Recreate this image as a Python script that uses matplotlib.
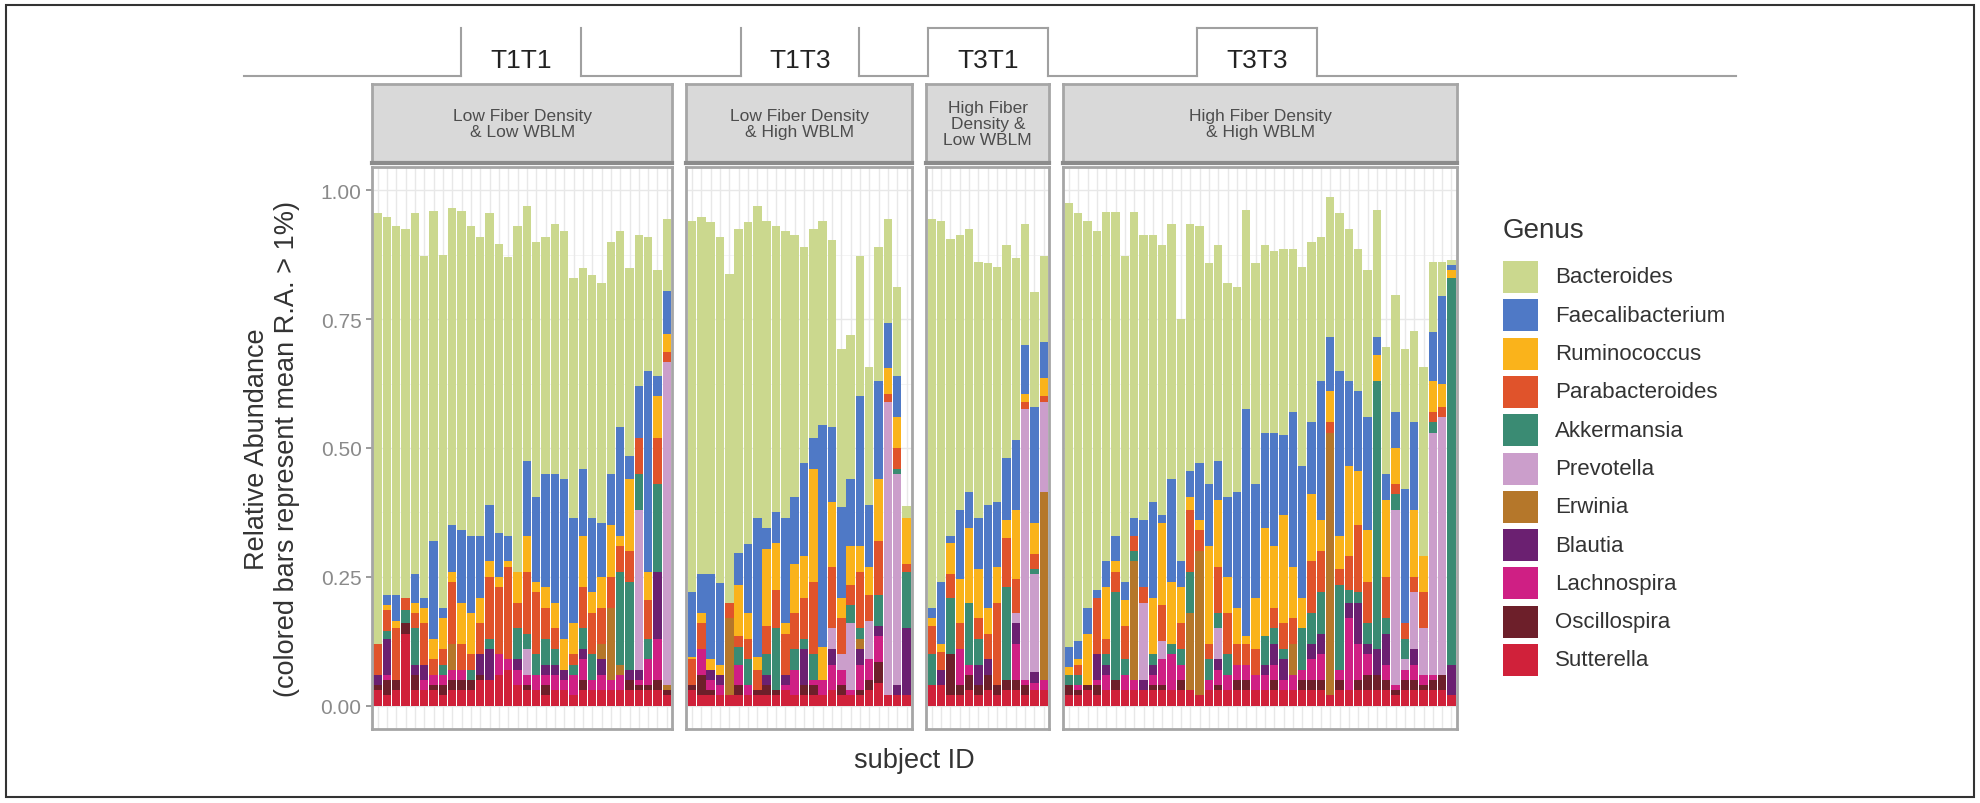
import numpy as np
import matplotlib.pyplot as plt
from matplotlib.patches import Rectangle
from matplotlib.lines import Line2D

plt.rcParams['font.family'] = ['Liberation Sans', 'DejaVu Sans']

W, H = 1980, 804

# ---- data -----------------------------------------------------------------
groups = ['T1T1', 'T1T3', 'T3T1', 'T3T3']
strip_labels = ['Low Fiber Density\n& Low WBLM',
                'Low Fiber Density\n& High WBLM',
                'High Fiber\nDensity &\nLow WBLM',
                'High Fiber Density\n& High WBLM']
n_subjects = [32, 24, 13, 42]

genera = ['Bacteroides', 'Faecalibacterium', 'Ruminococcus', 'Parabacteroides',
          'Akkermansia', 'Prevotella', 'Erwinia', 'Blautia', 'Lachnospira',
          'Oscillospira', 'Sutterella']
genus_colors = ['#cbd88e', '#4f79c6', '#fab31b', '#e0532b', '#3a8b73', '#cb9ecb',
                '#b5772a', '#6b2071', '#cf1f84', '#6d1f2a', '#d0213a']

# one value per subject, panels concatenated in order T1T1, T1T3, T3T1, T3T3
sutterella = [
    .03, .02, .03, .14, .03, .03, .03, .02, .03, .03, .03, .05, .05, .06, .07, .04,
    .03, .03, .02, .03, .03, .02, .03, .03, .03, .03, .03, .03, .03, .03, .03, .02,
    .03, .02, .02, .02, .02, .02, .02, .02, .02, .02, .03, .02, .02, .02, .02, .03,
    .02, .02, .02, .03, .045, .02, .02, .02,
    .04, .04, .02, .02, .03, .02, .03, .02, .03, .03, .02, .03, .03,
    .02, .02, .03, .02, .03, .03, .03, .03, .03, .03, .03, .03, .03, .03, .02, .03,
    .03, .03, .03, .03, .03, .03, .03, .03, .03, .03, .03, .03, .02, .03, .03, .03,
    .03, .03, .03, .02, .03, .03, .03, .03, .03, .02]
oscillospira = [
    .01, .03, .02, .02, .03, 0, .01, .02, .02, .02, .02, .01, 0, 0, 0, 0,
    .01, 0, .02, 0, 0, 0, .02, 0, 0, 0, 0, .02, .01, .01, .02, .01,
    .01, .04, .01, 0, 0, .02, 0, .01, .02, .01, 0, 0, .02, .02, 0, 0,
    .02, 0, .01, .02, .04, 0, 0, 0,
    0, 0, .08, .02, .03, .02, .03, .02, .02, .02, .02, 0, 0,
    .02, .01, .01, .02, 0, .02, 0, 0, 0, .01, .01, 0, .02, 0, 0, 0,
    .01, 0, .02, .02, 0, 0, .02, 0, 0, .02, .02, .02, 0, .02, 0, .02,
    .03, .03, .02, .01, .02, .02, .01, .02, .03, 0]
lachnospira = [
    0, .01, 0, 0, 0, .02, .02, .02, .02, .02, 0, 0, 0, .04, .02, .03,
    .02, .03, .02, .03, .02, .04, .04, .02, .03, .02, .03, 0, .01, .05, .08, 0,
    0, .05, .02, .02, 0, .04, .02, 0, 0, 0, .01, .05, 0, .01, .03, .05,
    .03, .01, .05, .04, .05, 0, 0, 0,
    0, 0, 0, .07, .02, 0, 0, 0, 0, .07, .01, .015, .02,
    0, .01, 0, .01, .03, 0, .03, .02, 0, .02, .05, .07, .03, 0, 0, .02,
    .03, .03, .03, .03, .03, .03, .03, .02, .03, .02, .04, .05, 0, .02, .14, .07,
    .04, 0, .03, .01, .02, .03, .02, .01, 0, 0]
blautia = [
    .02, .07, 0, 0, .02, .03, 0, 0, 0, 0, 0, .04, .06, 0, 0, .02,
    0, 0, .02, .02, .02, 0, .02, 0, .03, 0, 0, .02, .02, 0, .13, 0,
    0, 0, .02, .02, 0, 0, 0, 0, .02, 0, .02, 0, .07, 0, 0, .03,
    0, 0, .03, 0, .02, 0, .02, .13,
    0, .03, 0, 0, 0, .04, .03, 0, 0, .04, 0, .02, 0,
    0, 0, 0, .05, .02, 0, 0, 0, .02, .02, 0, 0, 0, 0, 0, 0,
    .02, 0, 0, 0, 0, .02, .04, .04, 0, 0, .03, .04, 0, 0, .03, .08,
    .02, .05, .06, 0, 0, .03, 0, 0, 0, .06]
erwinia = [
    0, 0, 0, 0, 0, 0, 0, 0, .05, 0, 0, 0, 0, 0, 0, 0,
    0, 0, 0, 0, 0, 0, 0, 0, .03, .14, .02, 0, 0, 0, 0, .01,
    0, 0, 0, 0, .15, 0, 0, 0, 0, 0, 0, 0, 0, 0, 0, 0,
    0, 0, .02, 0, 0, 0, 0, 0,
    0, 0, 0, 0, 0, 0, 0, 0, 0, 0, 0, 0, .365,
    0, 0, 0, 0, 0, 0, 0, .23, 0, 0, 0, 0, 0, .15, .28, 0,
    0, 0, 0, 0, 0, 0, 0, 0, .06, 0, 0, 0, .51, 0, 0, 0,
    0, 0, 0, 0, 0, 0, 0, 0, 0, 0]
prevotella = [
    0, 0, 0, 0, 0, 0, 0, 0, 0, 0, 0, 0, 0, 0, 0, 0,
    .05, 0, 0, 0, 0, 0, 0, 0, 0, 0, 0, 0, .31, 0, 0, .627,
    0, 0, 0, 0, 0, 0, 0, 0, 0, 0, 0, 0, 0, 0, 0, .04,
    .03, .13, 0, .075, 0, .57, .41, 0,
    0, 0, 0, 0, 0, 0, 0, 0, 0, .02, .525, .19, .175,
    0, 0, 0, 0, 0, 0, 0, 0, .15, 0, .035, 0, 0, 0, 0, 0,
    .06, 0, 0, 0, 0, 0, 0, 0, 0, 0, 0, 0, 0, 0, 0, 0,
    0, 0, 0, .34, .02, .11, .09, .47, .50, 0]
akkermansia = [
    0, .015, 0, .025, .07, 0, 0, .02, 0, 0, .02, 0, .02, 0, 0, .06,
    .03, .04, .05, .03, 0, .02, .04, .05, 0, 0, .18, .17, .07, .04, .17, 0,
    0, 0, 0, 0, 0, .035, .05, 0, .04, .12, 0, .04, .02, .05, 0, 0,
    0, .035, .02, 0, .06, 0, .01, .11,
    .06, 0, .11, 0, .12, .05, 0, 0, .18, 0, 0, .01, 0,
    .02, .02, 0, 0, .02, .17, .03, .02, 0, .02, 0, .02, .03, .08, 0, .04,
    .03, .04, 0, 0, 0, .055, .03, .02, 0, .08, .06, .08, 0, .165, .025, .02,
    .04, .52, .03, .03, .04, 0, 0, .02, 0, .75]
parabacteroides = [
    .06, .04, .10, .025, .03, .08, .03, .03, .12, .05, .03, .06, .12, .13, .18, .05,
    .12, .12, .06, .04, 0, .02, .08, .08, .07, .06, .05, .06, .07, .075, .09, .02,
    .05, .05, 0, 0, .03, .02, .04, .04, .055, .075, .08, .07, .08, .14, 0, .12,
    .07, .04, .11, .05, .105, .015, .04, .015,
    .055, .035, .045, .05, 0, .04, .05, .16, .095, .065, .015, .03, .01,
    0, .02, 0, .11, .03, .04, .065, .03, .03, 0, .07, 0, .05, .12, .04, .03,
    .09, .08, .04, .04, .05, 0, .04, .05, .05, 0, .10, .08, .02, .03, .065, .13,
    .08, 0, .08, .02, .03, .03, .07, .02, .02, 0]
ruminococcus = [
    0, .01, .015, 0, .02, .03, .04, .06, .02, .08, .08, .05, .03, .02, .01, .06,
    .07, .02, .04, .05, .06, .06, .10, .04, .06, .10, .02, .14, 0, .055, .08, .035,
    .005, .02, .02, .02, 0, .10, .05, .025, .15, .09, .02, .095, .08, .22, .065, .125,
    .04, .075, .05, .055, .12, .05, .06, .09,
    .015, .015, .06, .085, .145, .095, .05, .07, .035, .135, .015, .06, .035,
    .015, .01, .10, 0, .10, .02, .05, 0, 0, .11, .16, .12, .07, .025, .02, .19,
    .13, .07, .07, .015, .10, .21, .12, .21, .10, .06, .13, .06, .06, .065, .175, .105,
    .10, .05, .15, .07, 0, .13, .07, .06, .045, .015]
faecalibacterium = [
    0, .02, .05, 0, .055, .02, .19, .02, .09, .14, .15, .12, .11, .085, .05, 0,
    .145, .165, .22, .25, .31, .205, .13, .145, .105, .10, .21, .045, .10, .39, .04, .083,
    .125, .075, .165, .158, 0, .062, .134, .27, .04, .06, .205, .13, .18, .06, .43, .145,
    .175, .13, .29, .12, .19, .087, .08, 0,
    .02, .12, .015, .135, .07, .10, .20, .125, .12, .135, .095, .225, .07,
    .04, .035, .05, .015, .05, .05, .035, .035, .13, .185, .015, .20, .05, .05, .11, .12,
    .075, .155, .225, .44, .22, .185, .22, .155, .30, .255, .14, .27, .105, .32, .165, .155,
    .22, .035, .05, .07, .26, .17, 0, .095, .17, .01]
# height of the full bar (top of the Bacteroides segment)
bar_top = [
    .955, .948, .93, .925, .955, .872, .96, .875, .965, .96, .93, .91, .955, .895, .87, .93,
    .97, .90, .91, .935, .92, .83, .85, .835, .82, .90, .92, .85, .913, .91, .845, .945,
    .94, .948, .938, .91, .837, .924, .938, .969, .94, .93, .92, .913, .889, .924, .94, .903,
    .692, .72, .872, .657, .889, .945, .813, .387,
    .945, .94, .906, .913, .924, .861, .858, .851, .893, .868, .934, .802, .872,
    .976, .955, .94, .92, .958, .958, .872, .958, .913, .913, .893, .934, .75, .934, .93, .858,
    .893, .82, .813, .962, .858, .893, .882, .886, .886, .851, .90, .91, .986, .955, .924, .886,
    .845, .962, .695, .796, .692, .726, .657, .861, .861, .865]

# stacking order, bottom to top (Bacteroides goes last)
stack = [sutterella, oscillospira, lachnospira, blautia, erwinia, prevotella,
         akkermansia, parabacteroides, ruminococcus, faecalibacterium]
stack_colors = genus_colors[1:][::-1]
stack_arr = np.array(stack, dtype=float)
bacteroides = np.clip(np.array(bar_top) - stack_arr.sum(axis=0), 0, None)
stack_arr = np.vstack([stack_arr, bacteroides])
stack_colors = stack_colors + [genus_colors[0]]

# ---- figure ---------------------------------------------------------------
fig = plt.figure(figsize=(W / 100, H / 100), dpi=100)


def fx(px):
    return px / W


def fy(py):
    return 1 - py / H


pitch = 9.33
gap = 14
panel_top, panel_bot = 168, 730
strip_top, strip_bot = 85, 164
grey_txt = '#333333'

x0 = 372
start = 0
for k, n in enumerate(n_subjects):
    wpx = (n + 0.2) * pitch
    ax = fig.add_axes([fx(x0), fy(panel_bot), wpx / W, (panel_bot - panel_top) / H])
    idx = np.arange(n)
    ax.set_xlim(-0.6, n - 0.4)
    ax.set_ylim(-0.045, 1.045)
    for yv in [0.125, 0.375, 0.625, 0.875]:
        ax.axhline(yv, color='#f2f2f2', lw=0.6, zorder=0)
    for yv in [0, 0.25, 0.5, 0.75, 1.0]:
        ax.axhline(yv, color='#e8e8e8', lw=1.0, zorder=0)
    for xv in idx:
        ax.axvline(xv, color='#e8e8e8', lw=1.0, zorder=0)
    bottom = np.zeros(n)
    for vals, c in zip(stack_arr, stack_colors):
        seg = vals[start:start + n]
        ax.bar(idx, seg, bottom=bottom, width=0.9, color=c, linewidth=0, zorder=2)
        bottom = bottom + seg
    for sp in ax.spines.values():
        sp.set_color('#a6a6a6')
        sp.set_linewidth(2)
    ax.set_xticks([])
    if k == 0:
        ax.set_yticks([0, 0.25, 0.5, 0.75, 1.0])
        ax.set_yticklabels(['0.00', '0.25', '0.50', '0.75', '1.00'])
        ax.tick_params(axis='y', colors='#8a8a8a', labelsize=15, length=4, width=1.2)
    else:
        ax.set_yticks([])

    # facet strip
    sax = fig.add_axes([fx(x0), fy(strip_bot), wpx / W, (strip_bot - strip_top) / H])
    sax.set_facecolor('#d9d9d9')
    sax.set_xticks([])
    sax.set_yticks([])
    for sp in sax.spines.values():
        sp.set_color('#a6a6a6')
        sp.set_linewidth(2)
    sax.spines['bottom'].set_color('#8c8c8c')
    sax.spines['bottom'].set_linewidth(3)
    sax.text(0.5, 0.5, strip_labels[k], ha='center', va='center', fontsize=12.5,
             color='#4d4d4d', linespacing=1.1, transform=sax.transAxes)

    x0 += wpx + gap
    start += n

# axis titles
fig.text(fx(272), fy(449), 'Relative Abundance\n(colored bars represent mean R.A. > 1%)',
         rotation=90, ha='center', va='center', fontsize=19.5, color=grey_txt,
         linespacing=1.15, multialignment='center')
fig.text(fx(914), fy(761), 'subject ID', ha='center', va='center', fontsize=19.5,
         color=grey_txt)

# legend
fig.text(fx(1503), fy(231), 'Genus', ha='left', va='center', fontsize=20, color=grey_txt)
for i, (g, c) in enumerate(zip(genera, genus_colors)):
    cy = 278 + i * 38.3
    fig.add_artist(Rectangle((fx(1503), fy(cy + 16)), 35 / W, 32 / H, transform=fig.transFigure,
                             facecolor=c, edgecolor='none'))
    fig.text(fx(1555), fy(cy), g, ha='left', va='center', fontsize=16, color=grey_txt)

# group tabs above the strips
tabs = [(461, 581), (741, 859), (928, 1048), (1197, 1317)]
base_y, tab_y = 77, 29
line_kw = dict(color='#a0a0a0', lw=1.5, transform=fig.transFigure)
xs = [244]
for a, b in tabs:
    xs += [a, b]
xs.append(1736)
for i in range(0, len(xs), 2):
    fig.add_artist(Line2D([fx(xs[i]), fx(xs[i + 1])], [fy(base_y), fy(base_y)], **line_kw))
for j, (a, b) in enumerate(tabs):
    fig.add_artist(Line2D([fx(a), fx(a)], [fy(base_y), fy(tab_y)], **line_kw))
    fig.add_artist(Line2D([fx(b), fx(b)], [fy(base_y), fy(tab_y)], **line_kw))
    if j >= 2:
        fig.add_artist(Line2D([fx(a), fx(b)], [fy(tab_y), fy(tab_y)], **line_kw))
    fig.text(fx((a + b) / 2), fy(61), groups[j], ha='center', va='center', fontsize=19,
             color='#222222')

# outer frame
fig.add_artist(Rectangle((fx(6), fy(798)), (1974 - 6) / W, (798 - 6) / H,
                         transform=fig.transFigure, fill=False, edgecolor='#333333', lw=1.5))

fig.savefig('out.png', dpi=100)
